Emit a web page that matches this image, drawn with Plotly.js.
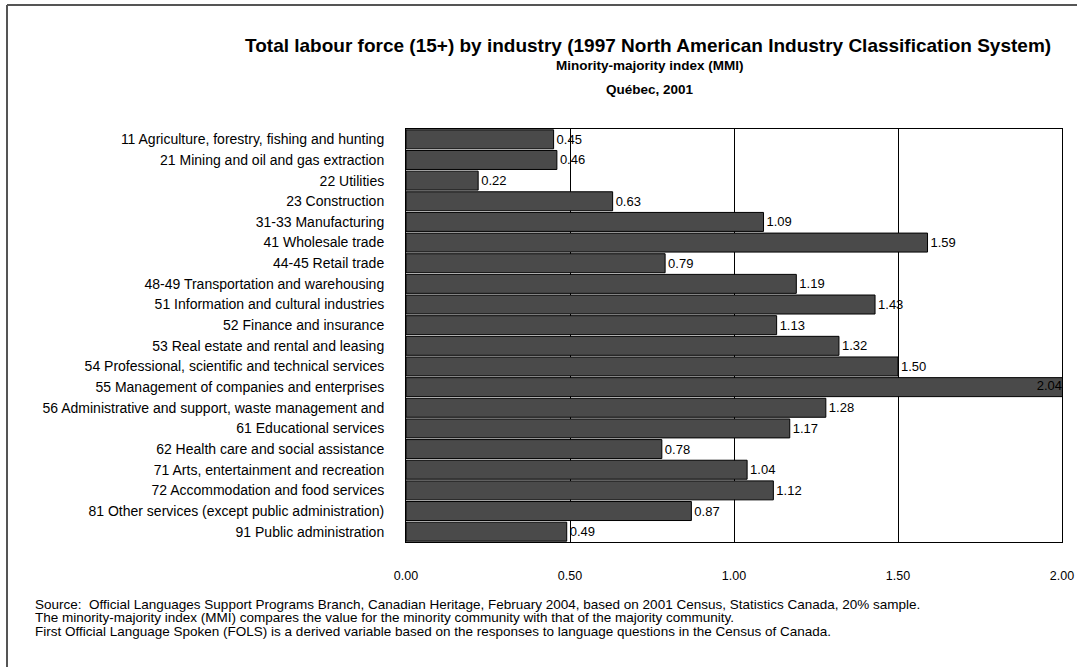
<!DOCTYPE html>
<html>
<head>
<meta charset="utf-8">
<script src="https://cdn.plot.ly/plotly-3.0.1.min.js"></script>
<style>html,body{margin:0;padding:0;background:#fff;}#chart{width:1077px;height:667px;}</style>
</head>
<body>
<div id="chart"></div>
<script>
const industries = [
  "11 Agriculture, forestry, fishing and hunting",
  "21 Mining and oil and gas extraction",
  "22 Utilities",
  "23 Construction",
  "31-33 Manufacturing",
  "41 Wholesale trade",
  "44-45 Retail trade",
  "48-49 Transportation and warehousing",
  "51 Information and cultural industries",
  "52 Finance and insurance",
  "53 Real estate and rental and leasing",
  "54 Professional, scientific and technical services",
  "55 Management of companies and enterprises",
  "56 Administrative and support, waste management and",
  "61 Educational services",
  "62 Health care and social assistance",
  "71 Arts, entertainment and recreation",
  "72 Accommodation and food services",
  "81 Other services (except public administration)",
  "91 Public administration"
];
const mmi = [0.45, 0.46, 0.22, 0.63, 1.09, 1.59, 0.79, 1.19, 1.43, 1.13, 1.32, 1.50, 2.04, 1.28, 1.17, 0.78, 1.04, 1.12, 0.87, 0.49];
const xTicks = [0, 0.5, 1.0, 1.5, 2.0];
const xTickLabels = ["0.00", "0.50", "1.00", "1.50", "2.00"];
const xMax = 2.0;

const titleMain = "Total labour force (15+) by industry (1997 North American Industry Classification System)";
const titleSub1 = "Minority-majority index (MMI)";
const titleSub2 = "Québec, 2001";
const notes = [
  "Source:  Official Languages Support Programs Branch, Canadian Heritage, February 2004, based on 2001 Census, Statistics Canada, 20% sample.",
  "The minority-majority index (MMI) compares the value for the minority community with that of the majority community.",
  "First Official Language Spoken (FOLS) is a derived variable based on the responses to language questions in the Census of Canada."
];

const FONT = "Liberation Sans, Arial, sans-serif";

const barTrace = {
  type: "bar",
  orientation: "h",
  x: mmi,
  y: industries,
  marker: {color: "#4a4a4a", line: {color: "#000", width: 1}},
  width: 0.92,
  text: mmi.map(v => v.toFixed(2)),
  textposition: mmi.map(v => v > xMax ? "none" : "outside"),
  textangle: 0,
  constraintext: "none",
  cliponaxis: false,
  outsidetextfont: {family: FONT, size: 13, color: "#000"},
  hoverinfo: "none"
};

// labels for bars running past the axis end: drawn at the axis end, inside the bar
const overIdx = mmi.map((v, i) => i).filter(i => mmi[i] > xMax);
const overTrace = {
  type: "scatter",
  mode: "text",
  x: overIdx.map(() => xMax),
  y: overIdx.map(i => industries[i]),
  text: overIdx.map(i => mmi[i].toFixed(2)),
  textposition: "middle left",
  textfont: {family: FONT, size: 13, color: "#000"},
  cliponaxis: false,
  hoverinfo: "none"
};

const annotations = [
  {text: "<b>" + titleMain + "</b>", x: 648, y: 45, size: 19},
  {text: "<b>" + titleSub1 + "</b>", x: 650, y: 66, size: 13.5},
  {text: "<b>" + titleSub2 + "</b>", x: 650, y: 89, size: 13.5}
].map(a => ({
  text: a.text, xref: "paper", yref: "paper",
  x: (a.x - 406) / (1062 - 406), y: (542 - a.y) / (542 - 129),
  xanchor: "center", yanchor: "middle", showarrow: false,
  font: {family: FONT, size: a.size, color: "#000"}
}));
notes.forEach((t, i) => {
  annotations.push({
    text: t, xref: "paper", yref: "paper",
    x: (33 - 406) / (1062 - 406), y: (542 - (604 + i * 13.5)) / (542 - 129),
    xanchor: "left", yanchor: "middle", showarrow: false,
    font: {family: FONT, size: 13.5, color: "#000"}
  });
});

const layout = {
  width: 1077, height: 667,
  margin: {l: 406, r: 15, t: 129, b: 125, pad: 0},
  paper_bgcolor: "#fff", plot_bgcolor: "#fff",
  showlegend: false,
  bargap: 0.08,
  font: {family: FONT, size: 12, color: "#000"},
  xaxis: {
    range: [0, xMax], tickvals: xTicks, ticktext: xTickLabels,
    showgrid: true, gridcolor: "#000", gridwidth: 1,
    zeroline: false, showline: true, linecolor: "#000", linewidth: 1, mirror: true,
    ticks: "", ticklabelstandoff: 22,
    tickfont: {family: FONT, size: 12.5, color: "#000"},
    fixedrange: true
  },
  yaxis: {
    autorange: "reversed", type: "category",
    showgrid: false, zeroline: false,
    showline: true, linecolor: "#000", linewidth: 1, mirror: true,
    ticks: "", ticklabelstandoff: 18,
    tickfont: {family: FONT, size: 14, color: "#000"},
    fixedrange: true
  },
  shapes: [
    {type: "line", xref: "paper", yref: "paper", x0: (7 - 406) / 656, x1: (1077 - 406) / 656, y0: (542 - 5) / 413, y1: (542 - 5) / 413, line: {color: "#555", width: 2}},
    {type: "line", xref: "paper", yref: "paper", x0: (7 - 406) / 656, x1: (7 - 406) / 656, y0: (542 - 5) / 413, y1: (542 - 667) / 413, line: {color: "#555", width: 2}}
  ],
  annotations: annotations
};

Plotly.newPlot("chart", [barTrace, overTrace], layout, {displayModeBar: false, staticPlot: true});
</script>
</body>
</html>
